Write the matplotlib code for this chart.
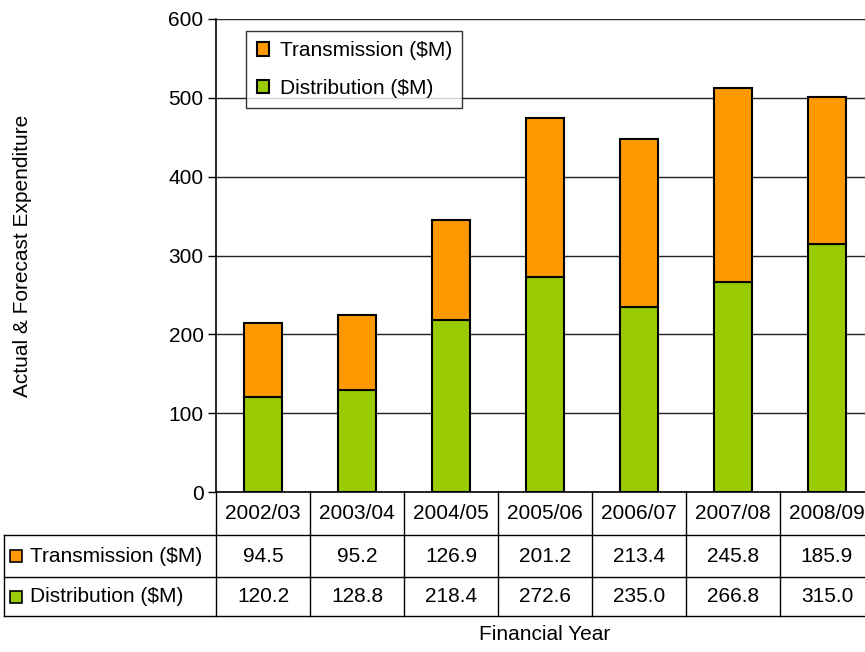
import matplotlib.pyplot as plt
from matplotlib.transforms import blended_transform_factory
from matplotlib.lines import Line2D

plt.rcParams['font.family'] = ['Liberation Sans', 'DejaVu Sans']

years = ['2002/03', '2003/04', '2004/05', '2005/06', '2006/07', '2007/08', '2008/09']
transmission = [94.5, 95.2, 126.9, 201.2, 213.4, 245.8, 185.9]
distribution = [120.2, 128.8, 218.4, 272.6, 235.0, 266.8, 315.0]
series = ['Transmission ($M)', 'Distribution ($M)']
colors = ['#FF9900', '#99CC00']

FS = 15
W, H = 865, 652
fig = plt.figure(figsize=(W / 100, H / 100), dpi=100)
# plot area runs a little past the right edge of the canvas
ax = fig.add_axes([216 / W, (H - 492) / H, 658 / W, 473 / H])

x = list(range(len(years)))
ax.bar(x, distribution, width=0.4, color=colors[1], edgecolor='black', linewidth=1.5,
       label=series[1], zorder=3)
ax.bar(x, transmission, width=0.4, bottom=distribution, color=colors[0], edgecolor='black',
       linewidth=1.5, label=series[0], zorder=3)

ax.set_xlim(-0.5, len(years) - 0.5)
ax.set_ylim(0, 600)
ax.set_yticks(range(0, 601, 100))
ax.yaxis.grid(True, color='#222222', linewidth=1.0)
ax.set_axisbelow(True)
ax.set_xticks([])
ax.tick_params(axis='y', length=6, width=1, labelsize=FS, pad=3)
for s in ['top', 'right']:
    ax.spines[s].set_visible(False)
ax.spines['left'].set_linewidth(1.2)
ax.spines['bottom'].set_linewidth(1.2)
ax.set_ylabel('Actual & Forecast Expenditure', fontsize=FS)
ax.yaxis.set_label_coords(-0.280, 0.5)

handles, labels = ax.get_legend_handles_labels()
leg = ax.legend(handles[::-1], labels[::-1], loc='upper left', bbox_to_anchor=(0.046, 0.975),
                borderaxespad=0, fontsize=FS, frameon=True, fancybox=False,
                handlelength=0.6, handleheight=0.6, handletextpad=0.5,
                labelspacing=0.9, borderpad=0.5)
leg.get_frame().set_edgecolor('black')
leg.get_frame().set_linewidth(1.0)

# data table under the axis
tr = blended_transform_factory(ax.transData, ax.transAxes)
px = lambda p: (492 - p) / 473  # pixel row -> axes fraction
y_hdr, y_r1, y_r2, y_bot = px(492), px(535), px(577), px(616)
x_left = -0.5 - 212.5 / 94
x_right = len(years) - 0.5
lk = dict(color='black', linewidth=1.0, transform=tr, clip_on=False)

for yy in [y_r1, y_r2, y_bot]:
    ax.add_line(Line2D([x_left, x_right], [yy, yy], **lk))
ax.add_line(Line2D([x_left, x_left], [y_r1, y_bot], **lk))
for i in range(len(years) + 1):
    ax.add_line(Line2D([i - 0.5, i - 0.5], [y_hdr, y_bot], **lk))

for i, yr in enumerate(years):
    ax.text(i, (y_hdr + y_r1) / 2, yr, ha='center', va='center', fontsize=FS, transform=tr)
    ax.text(i, (y_r1 + y_r2) / 2, f'{transmission[i]:.1f}', ha='center', va='center',
            fontsize=FS, transform=tr)
    ax.text(i, (y_r2 + y_bot) / 2, f'{distribution[i]:.1f}', ha='center', va='center',
            fontsize=FS, transform=tr)

for name, col, yc in [(series[0], colors[0], (y_r1 + y_r2) / 2),
                      (series[1], colors[1], (y_r2 + y_bot) / 2)]:
    ax.plot([x_left + 12 / 94], [yc], marker='s', markersize=9, markerfacecolor=col,
            markeredgecolor='black', markeredgewidth=1.2, transform=tr, clip_on=False)
    ax.text(x_left + 27 / 94, yc, name, ha='left', va='center', fontsize=FS, transform=tr)

ax.text(3.0, px(635), 'Financial Year', ha='center', va='center', fontsize=FS, transform=tr)

fig.savefig('out.png', dpi=100)
